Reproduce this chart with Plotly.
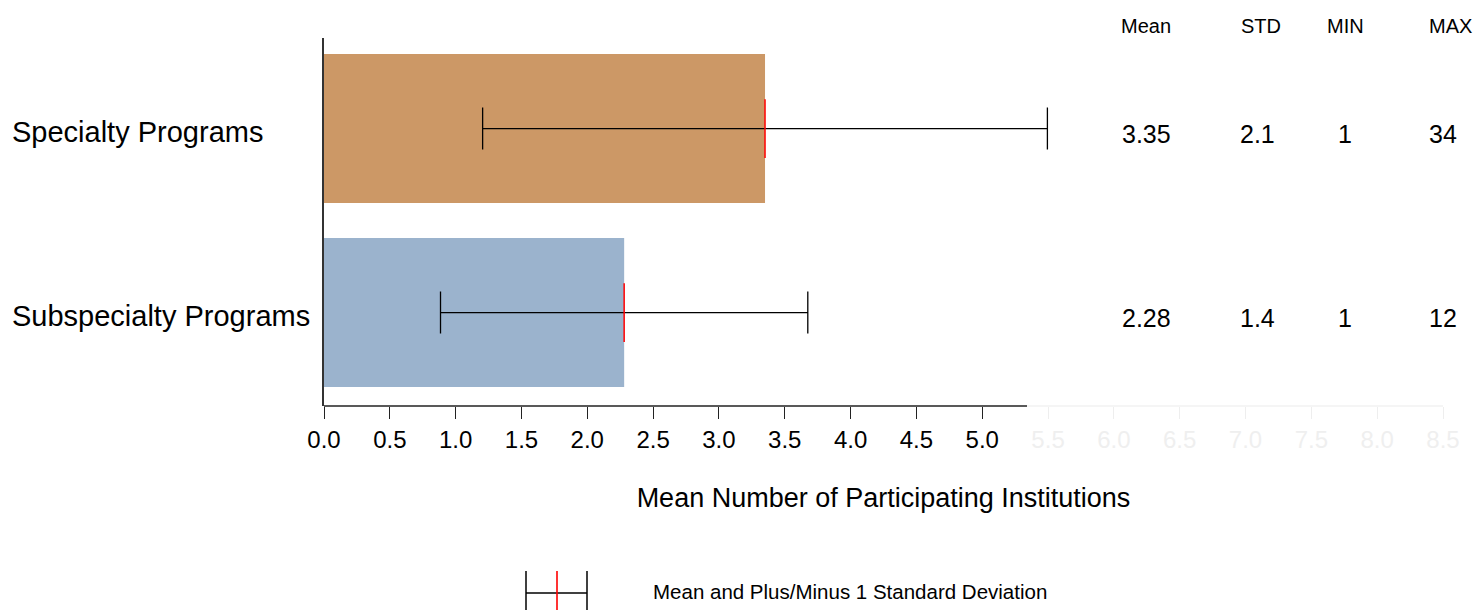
import plotly.graph_objects as go

# ---- data ----
categories = ["Subspecialty Programs", "Specialty Programs"]
means = [2.28, 3.35]
stds = [1.395, 2.145]
std_labels = ["1.4", "2.1"]
mean_labels = ["2.28", "3.35"]
min_labels = ["1", "1"]
max_labels = ["12", "34"]
bar_colors = ["#9BB3CD", "#CC9866"]
dark_ticks = [0.0, 0.5, 1.0, 1.5, 2.0, 2.5, 3.0, 3.5, 4.0, 4.5, 5.0]
ghost_ticks = [5.5, 6.0, 6.5, 7.0, 7.5, 8.0, 8.5]
table_headers = ["Mean", "STD", "MIN", "MAX"]
axis_line_end = 5.34
x_max = 8.5

FONT = "Arial, Liberation Sans, sans-serif"
W, H = 1476, 610
PL, PR, PT, PB = 324, 33, 38, 204
PW = W - PL - PR
PH = H - PT - PB


def px(x):
    return (x - PL) / PW


def py(y):
    return 1 - (y - PT) / PH


fig = go.Figure()
fig.add_trace(go.Bar(
    y=categories, x=means, orientation="h",
    marker=dict(color=bar_colors, line=dict(width=0)),
    width=0.81,
    error_x=dict(type="data", array=stds, visible=True, color="black",
                 thickness=1.3, width=21),
    hoverinfo="skip", showlegend=False,
))
fig.add_trace(go.Scatter(
    y=categories, x=means, mode="markers",
    marker=dict(symbol="line-ns", size=42, color="red",
                line=dict(color="red", width=1.5)),
    hoverinfo="skip", showlegend=False,
))
# dummy trace on ghost axis
fig.add_trace(go.Scatter(x=[None], y=[None], xaxis="x2", showlegend=False))

fig.update_layout(
    width=W, height=H,
    margin=dict(l=PL, r=PR, t=PT, b=PB, pad=0),
    paper_bgcolor="white", plot_bgcolor="white",
    font=dict(family=FONT, color="black"),
    bargap=0.19,
    xaxis=dict(
        range=[0, x_max], showgrid=False, zeroline=False, showline=False,
        tickvals=dark_ticks, ticktext=[f"{v:.1f}" for v in dark_ticks],
        ticks="outside", ticklen=12, tickwidth=1.2, tickcolor="#222",
        tickfont=dict(size=24, family=FONT, color="black"),
        title=dict(text="Mean Number of Participating Institutions",
                   font=dict(size=27, family=FONT, color="black"),
                   standoff=36),
    ),
    xaxis2=dict(
        range=[0, x_max], overlaying="x", side="bottom", anchor="y",
        showgrid=False, zeroline=False, showline=False,
        tickvals=ghost_ticks, ticktext=[f"{v:.1f}" for v in ghost_ticks],
        ticks="outside", ticklen=12, tickwidth=1.2, tickcolor="#eeeeee",
        tickfont=dict(size=24, family=FONT, color="#efefef"),
    ),
    yaxis=dict(
        range=[-0.508, 1.492], type="category",
        categoryorder="array", categoryarray=categories,
        showticklabels=False, ticks="", showgrid=False, zeroline=False,
        showline=True, linecolor="#333", linewidth=1.5,
    ),
)

shapes = [
    dict(type="line", xref="x", yref="paper", x0=0, x1=axis_line_end, y0=0, y1=0,
         line=dict(color="#222", width=1.5)),
    dict(type="line", xref="x", yref="paper", x0=axis_line_end, x1=x_max, y0=0, y1=0,
         line=dict(color="#f2f2f2", width=1.5)),
    # legend icon
    dict(type="line", xref="paper", yref="paper", x0=px(526), x1=px(587),
         y0=py(593), y1=py(593), line=dict(color="black", width=1.5)),
    dict(type="line", xref="paper", yref="paper", x0=px(526), x1=px(526),
         y0=py(571), y1=py(610), line=dict(color="black", width=1.5)),
    dict(type="line", xref="paper", yref="paper", x0=px(587), x1=px(587),
         y0=py(571), y1=py(610), line=dict(color="black", width=1.5)),
    dict(type="line", xref="paper", yref="paper", x0=px(557), x1=px(557),
         y0=py(571), y1=py(610), line=dict(color="red", width=1.6)),
]
fig.update_layout(shapes=shapes)

annotations = []
for cat in categories:
    annotations.append(dict(text=cat, xref="paper", yref="y", x=px(10), y=cat,
                            xanchor="left", yanchor="middle", showarrow=False,
                            yshift=-3, font=dict(size=29, family=FONT)))
header_x = [1146, 1261, 1345, 1450]
value_x = [1146, 1257, 1345, 1443]
for hx, h in zip(header_x, table_headers):
    annotations.append(dict(text=h, xref="paper", yref="paper", x=px(hx), y=py(26),
                            xanchor="center", yanchor="middle", showarrow=False,
                            font=dict(size=20, family=FONT)))
for i, cat in enumerate(categories):
    vals = [mean_labels[i], std_labels[i], min_labels[i], max_labels[i]]
    for vx, v in zip(value_x, vals):
        annotations.append(dict(text=v, xref="paper", yref="y", x=px(vx), y=cat,
                                xanchor="center", yanchor="middle", showarrow=False,
                                yshift=-5, font=dict(size=25, family=FONT)))
annotations.append(dict(text="Mean and Plus/Minus 1 Standard Deviation",
                        xref="paper", yref="paper", x=px(651), y=py(591),
                        xanchor="left", yanchor="middle", showarrow=False,
                        font=dict(size=20.5, family=FONT)))
fig.update_layout(annotations=annotations)

fig.write_html("out.html", config={"displayModeBar": False},
               post_script="document.body.style.margin='0';document.body.style.overflow='hidden';")
